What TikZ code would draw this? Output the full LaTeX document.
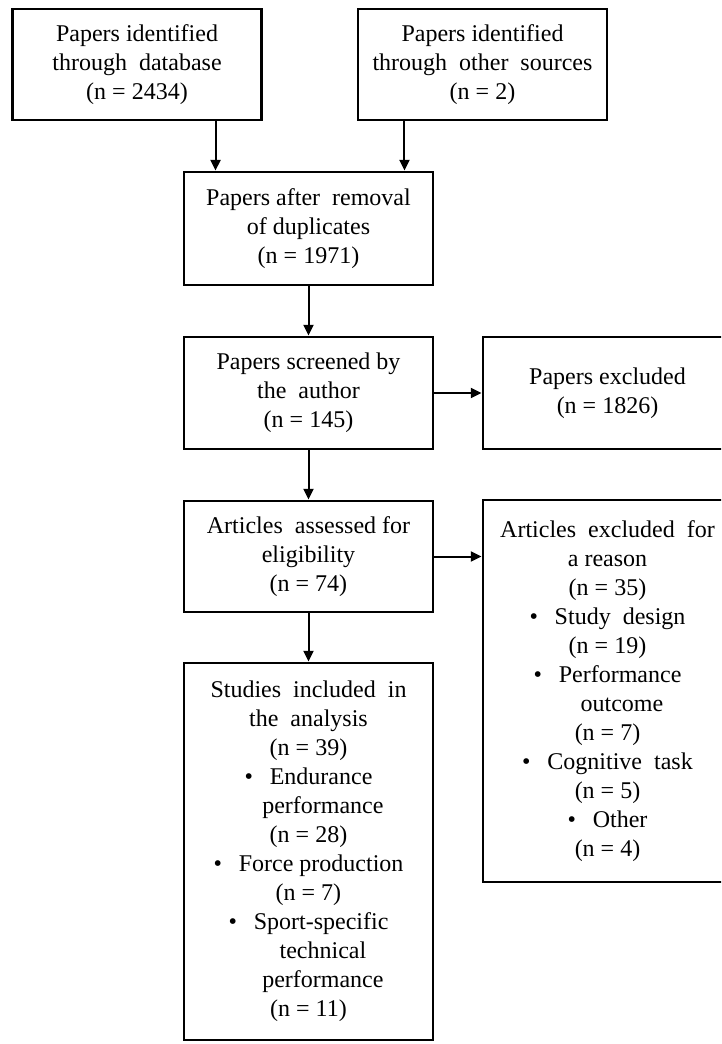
\documentclass[tikz,border=0pt]{standalone}
\usepackage{fontspec}
\setmainfont{Liberation Serif}
\usetikzlibrary{arrows.meta}
\newcommand{\itm}[1]{\textbullet\hspace{0.7em}#1}
\newcommand{\contline}[1]{\hspace*{1.2em}#1}

\begin{document}
\begin{tikzpicture}[x=0.75pt,y=-0.75pt,
        stage/.style={draw=black,rectangle,line width=2.2pt,inner sep=2pt,align=center,minimum width=186.75pt,font=\fontsize{18}{21.75}\selectfont},
        arr/.style={line width=1.5pt,-{Triangle[length=8pt,width=7.5pt]}}
      ]
      \useasboundingbox (0,0) rectangle (721,1044);
      \clip (0,0) rectangle (721,1044);
      \node[stage,minimum height=83.25pt] (db) at (137,64.5) {Papers identified\\through\ \ database\\(n = 2434)};
      \node[stage,minimum height=83.25pt] (other) at (482.5,64.5) {Papers identified\\through\ \ other\ \ sources\\(n = 2)};
      \node[stage,minimum height=84.75pt] (dup) at (308.5,228.5) {Papers after\ \ removal\\of duplicates\\(n = 1971)};
      \node[stage,minimum height=84pt] (screen) at (308.5,393) {Papers screened by\\the\ \ author\\(n = 145)};
      \node[stage,minimum height=84pt] (excl) at (607.5,393) {Papers excluded\\(n = 1826)};
      \node[stage,minimum height=83.25pt] (elig) at (308.5,556.5) {Articles\ \ assessed for\\eligibility\\(n = 74)};
      \node[stage,minimum height=286.5pt] (reason) at (607.5,691) {Articles\ \ excluded\ \ for\\a reason\\(n = 35)\\\itm{Study\ \ design}\\(n = 19)\\\itm{Performance}\\\contline{outcome}\\(n = 7)\\\itm{Cognitive\ \ task}\\(n = 5)\\\itm{Other}\\(n = 4)};
      \node[stage,minimum height=282.75pt] (incl) at (308.5,851.5) {Studies\ \ included\ \ in\\the\ \ analysis\\(n = 39)\\\itm{Endurance}\\\contline{performance}\\(n = 28)\\\itm{Force production}\\(n = 7)\\\itm{Sport-specific}\\\contline{technical}\\\contline{performance}\\(n = 11)};
      % entry points on the duplicates box
      \coordinate (in1) at ([xshift=24.75pt]dup.north west);
      \coordinate (in2) at ([xshift=-22.5pt]dup.north east);
      \draw[arr] (in1 |- db.south) -- (in1);
      \draw[arr] (in2 |- other.south) -- (in2);
      \draw[arr] (dup) -- (screen);
      \draw[arr] (screen) -- (excl);
      \draw[arr] (screen) -- (elig);
      \draw[arr] (elig.east) -- (elig.east -| reason.west);
      \draw[arr] (elig) -- (incl);
    \end{tikzpicture}
\end{document}
